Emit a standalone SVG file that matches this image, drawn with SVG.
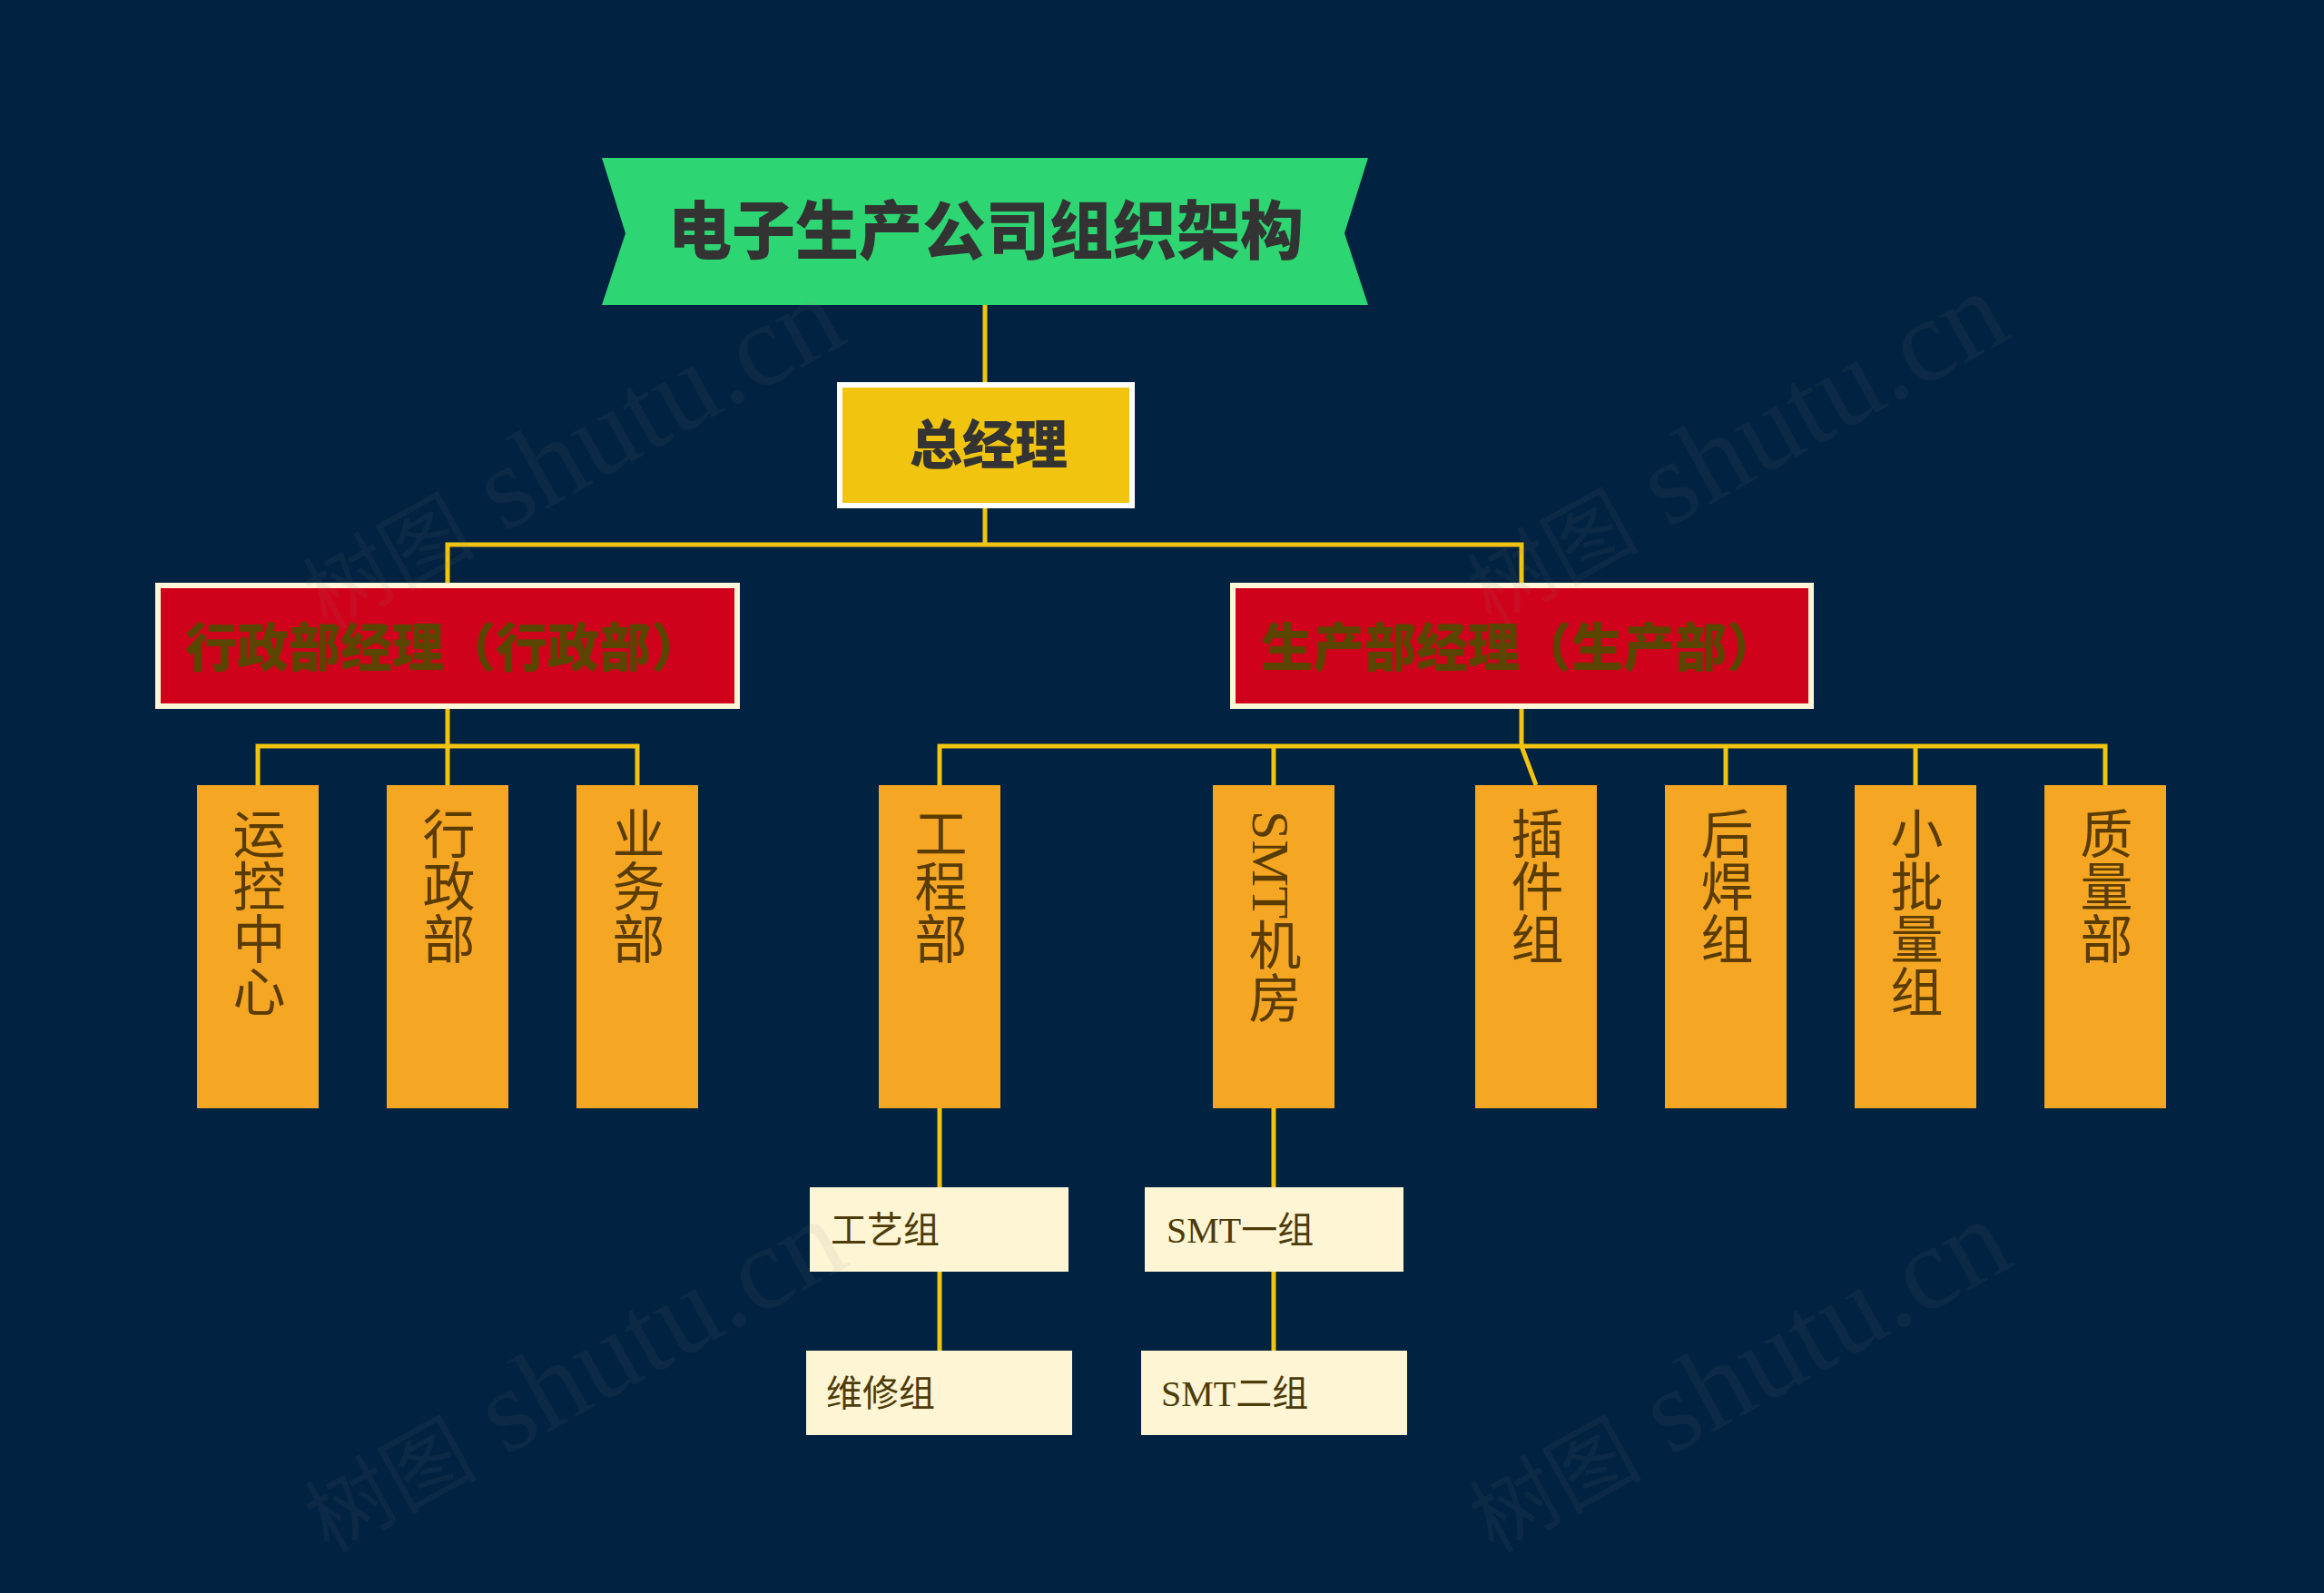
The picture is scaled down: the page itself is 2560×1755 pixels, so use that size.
<svg xmlns="http://www.w3.org/2000/svg" width="2560" height="1755" viewBox="0 0 2560 1755">
<style>
.bg{fill:#012240}
.line{stroke:#F1C40F;stroke-width:5;fill:none}
.title{font-family:"Noto Sans CJK SC",sans-serif;font-weight:900;fill:#333333}
.red{fill:#D0021B;stroke:#FDF6D8;stroke-width:6}
.redtxt{font-family:"Noto Sans CJK SC",sans-serif;font-weight:900;font-size:57px;fill:#5B4502}
.dept{fill:#F5A623}
.vtxt{font-family:"Liberation Serif","Noto Sans CJK SC",serif;font-size:58px;fill:#5A3C00;writing-mode:vertical-rl;text-orientation:mixed}
.sub{fill:#FDF5D3}
.subtxt{font-family:"Liberation Serif","Noto Sans CJK SC",serif;font-size:40px;fill:#4D3B0A}
.wm{font-family:"Liberation Serif","Noto Sans CJK SC",serif;fill:#8a8a8a;fill-opacity:0.09}
</style>
<rect class="bg" x="0" y="0" width="2560" height="1755"/>

<g id="connectors">
  <line class="line" x1="1085" y1="336" x2="1085" y2="421"/>
  <line class="line" x1="1085" y1="560" x2="1085" y2="600"/>
  <polyline class="line" points="493,642 493,600 1676,600 1676,642"/>
  <line class="line" x1="493" y1="781" x2="493" y2="865"/>
  <polyline class="line" points="284,865 284,822 702,822 702,865"/>
  <polyline class="line" points="1676,781 1676,822 1692,865"/>
  <polyline class="line" points="1035,865 1035,822 2319,822 2319,865"/>
  <line class="line" x1="1403" y1="822" x2="1403" y2="865"/>
  <line class="line" x1="1901" y1="822" x2="1901" y2="865"/>
  <line class="line" x1="2110" y1="822" x2="2110" y2="865"/>
  <line class="line" x1="1035" y1="1221" x2="1035" y2="1308"/>
  <line class="line" x1="1035" y1="1401" x2="1035" y2="1488"/>
  <line class="line" x1="1403" y1="1221" x2="1403" y2="1308"/>
  <line class="line" x1="1403" y1="1401" x2="1403" y2="1488"/>
</g>

<g id="node-title">
  <polygon points="663,174 1507,174 1481,257 1507,336 663,336 689,257" fill="#2ED573"/>
  <text class="title" x="1086" y="280" font-size="70" text-anchor="middle">电子生产公司组织架构</text>
</g>

<g id="node-gm">
  <rect x="925" y="424" width="322" height="133" fill="#F1C40F" stroke="#FFFFFF" stroke-width="6"/>
  <text class="title" x="1089" y="511" font-size="58" text-anchor="middle">总经理</text>
</g>

<g id="node-admin-mgr">
  <rect class="red" x="174" y="645" width="638" height="133"/>
  <text class="redtxt" x="204" y="734">行政部经理（行政部）</text>
</g>

<g id="node-prod-mgr">
  <rect class="red" x="1358" y="645" width="637" height="133"/>
  <text class="redtxt" x="1389" y="734">生产部经理（生产部）</text>
</g>

<g id="node-yunkong">
  <rect class="dept" x="217" y="865" width="134" height="356"/>
  <text class="vtxt" x="280" y="889">运控中心</text>
</g>
<g id="node-xingzheng">
  <rect class="dept" x="426" y="865" width="134" height="356"/>
  <text class="vtxt" x="489" y="889">行政部</text>
</g>
<g id="node-yewu">
  <rect class="dept" x="635" y="865" width="134" height="356"/>
  <text class="vtxt" x="698" y="889">业务部</text>
</g>
<g id="node-gongcheng">
  <rect class="dept" x="968" y="865" width="134" height="356"/>
  <text class="vtxt" x="1031" y="889">工程部</text>
</g>
<g id="node-smt">
  <rect class="dept" x="1336" y="865" width="134" height="356"/>
  <text class="vtxt" x="1399" y="893">SMT机房</text>
</g>
<g id="node-chajian">
  <rect class="dept" x="1625" y="865" width="134" height="356"/>
  <text class="vtxt" x="1688" y="889">插件组</text>
</g>
<g id="node-houhan">
  <rect class="dept" x="1834" y="865" width="134" height="356"/>
  <text class="vtxt" x="1897" y="889">后焊组</text>
</g>
<g id="node-xiaopi">
  <rect class="dept" x="2043" y="865" width="134" height="356"/>
  <text class="vtxt" x="2106" y="889">小批量组</text>
</g>
<g id="node-zhiliang">
  <rect class="dept" x="2252" y="865" width="134" height="356"/>
  <text class="vtxt" x="2315" y="889">质量部</text>
</g>

<g id="node-gongyi">
  <rect class="sub" x="892" y="1308" width="285" height="93"/>
  <text class="subtxt" x="915" y="1369">工艺组</text>
</g>
<g id="node-weixiu">
  <rect class="sub" x="888" y="1488" width="293" height="93"/>
  <text class="subtxt" x="910" y="1549">维修组</text>
</g>
<g id="node-smt1">
  <rect class="sub" x="1261" y="1308" width="285" height="93"/>
  <text class="subtxt" x="1285" y="1369">SMT一组</text>
</g>
<g id="node-smt2">
  <rect class="sub" x="1257" y="1488" width="293" height="93"/>
  <text class="subtxt" x="1279" y="1549">SMT二组</text>
</g>

<g id="watermarks">
  <text class="wm" x="360" y="695" transform="rotate(-29 360 695)"><tspan font-size="95">树图</tspan><tspan font-size="130"> shutu.cn</tspan></text>
  <text class="wm" x="1642" y="690" transform="rotate(-29 1642 690)"><tspan font-size="95">树图</tspan><tspan font-size="130"> shutu.cn</tspan></text>
  <text class="wm" x="362" y="1712" transform="rotate(-29 362 1712)"><tspan font-size="95">树图</tspan><tspan font-size="130"> shutu.cn</tspan></text>
  <text class="wm" x="1645" y="1712" transform="rotate(-29 1645 1712)"><tspan font-size="95">树图</tspan><tspan font-size="130"> shutu.cn</tspan></text>
</g>
</svg>
